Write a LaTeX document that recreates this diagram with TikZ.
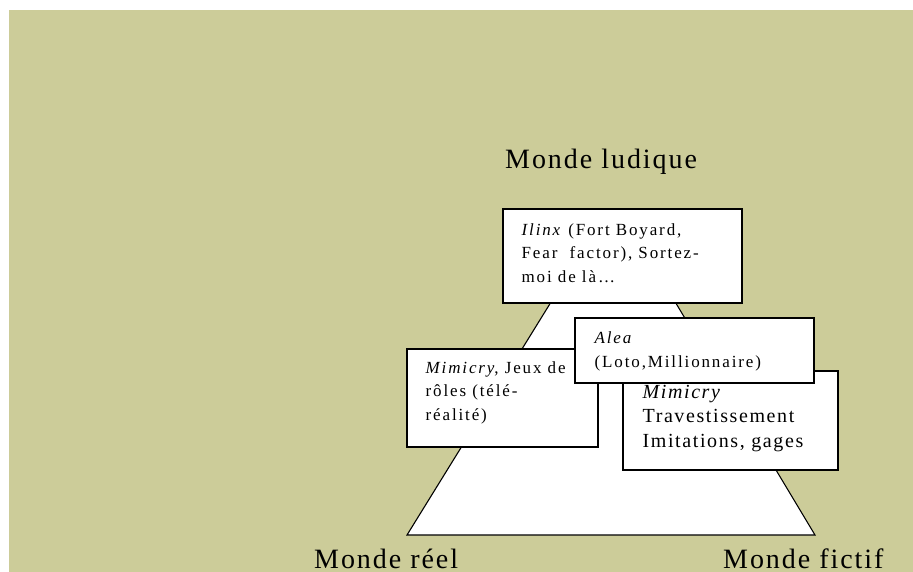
\documentclass[tikz,border=0pt]{standalone}
\usepackage{fontspec}
\setmainfont{Liberation Serif}
\newfontfamily\labelfont[LetterSpace=7]{Liberation Serif}
\newfontfamily\smallboxfont[LetterSpace=11]{Liberation Serif}
\newfontfamily\bigboxfont[LetterSpace=8]{Liberation Serif}
\usetikzlibrary{calc}
\definecolor{khaki}{RGB}{204,204,153}

\begin{document}
\begin{tikzpicture}[
  x=1pt,y=-1pt,
  box/.style={draw=black,line width=1.1pt,fill=white,inner sep=0pt},
  boxtext/.style={anchor=base west,inner sep=0pt,align=left},
  smalltext/.style={boxtext,font=\smallboxfont\fontsize{17}{23.5}\selectfont},
  bigtext/.style={boxtext,font=\bigboxfont\fontsize{20}{24.5}\selectfont},
  world/.style={anchor=base west,inner sep=0pt,font=\labelfont\fontsize{28}{30}\selectfont}
]
\useasboundingbox (0,0) rectangle (913,572);
\fill[khaki] (9,10) rectangle (913,572);

% the pyramid of worlds
\draw[line width=1.1pt,fill=white] (407,535) -- (815,535) -- (650,260) -- (577,260) -- cycle;

\node[world] (ludique) at (505,169) {Monde ludique};
\node[world] (reel) at (314,568) {Monde réel};
\node[world] (fictif) at (723,568) {Monde fictif};

% game categories (text anchored on its last baseline)
\node[box,minimum width=239,minimum height=94] (ilinx) at (622.5,256) {};
\node[smalltext] (ilinxtxt) at ($(ilinx.north west)+(19,74)$) {\textit{Ilinx} (Fort Boyard,\\Fear~ factor), Sortez-\\moi de là…};

\node[box,minimum width=191,minimum height=98] (mimjeux) at (502.5,398) {};
\node[smalltext] (mimjeuxtxt) at ($(mimjeux.north west)+(19,72)$) {\textit{Mimicry}, Jeux de\\rôles (télé-\\réalité)};

\node[box,minimum width=215,minimum height=99] (mimtrav) at (730.5,420.5) {};
\node[bigtext] (mimtravtxt) at ($(mimtrav.north west)+(20,77)$) {\textit{Mimicry}\\Travestissement\\Imitations, gages};

\node[box,minimum width=239,minimum height=65] (alea) at (694.5,350.5) {};
\node[smalltext] (aleatxt) at ($(alea.north west)+(20,50)$) {\textit{Alea}\\(Loto,Millionnaire)};
\end{tikzpicture}
\end{document}
